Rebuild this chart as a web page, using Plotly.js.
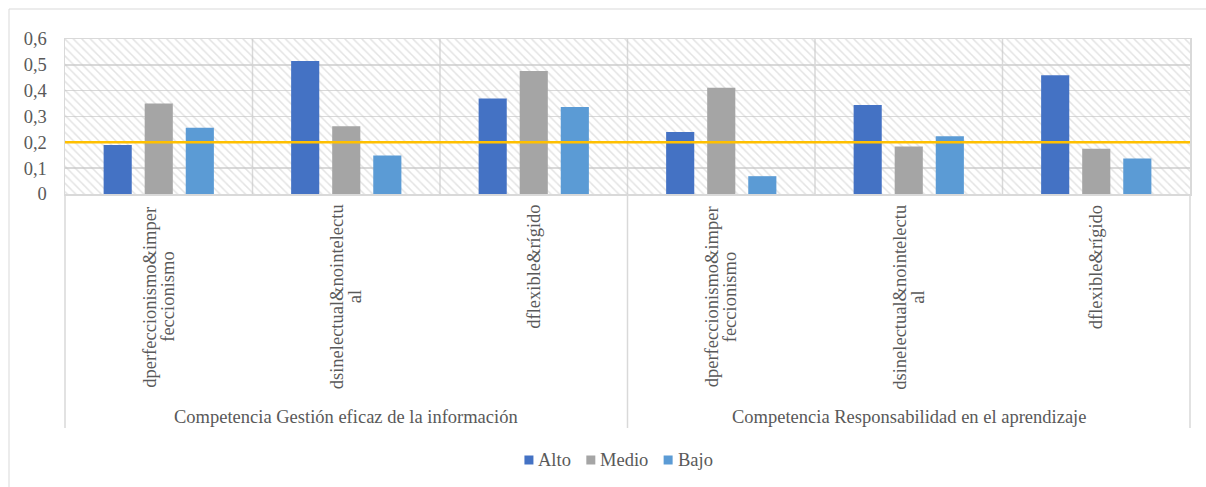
<!DOCTYPE html>
<html>
<head>
<meta charset="utf-8">
<script src="https://cdn.plot.ly/plotly-3.0.1.min.js"></script>
<style>
  html, body { margin: 0; padding: 0; background: #fff; }
  #chart { width: 1206px; height: 487px; }
</style>
</head>
<body>
<div id="chart"></div>
<script>
// Competence groups and the three dimensions measured inside each one
const groups = ['Competencia Gestión eficaz de la información', 'Competencia Responsabilidad en el aprendizaje'];
const dimensionLabels = [
  'dperfeccionismo&imper<br>feccionismo',
  'dsinelectual&nointelectu<br>al',
  'dflexible&rígido',
  'dperfeccionismo&imper<br>feccionismo',
  'dsinelectual&nointelectu<br>al',
  'dflexible&rígido'
];
const seriesNames = ['Alto', 'Medio', 'Bajo'];
const alto  = [0.19, 0.515, 0.37, 0.24, 0.345, 0.46];
const medio = [0.35, 0.262, 0.476, 0.411, 0.184, 0.175];
const bajo  = [0.256, 0.149, 0.337, 0.069, 0.224, 0.137];
const threshold = 0.2;
const yTickVals = [0, 0.1, 0.2, 0.3, 0.4, 0.5, 0.6];
const yTickText = ['0', '0,1', '0,2', '0,3', '0,4', '0,5', '0,6'];

const FONT = '"Liberation Serif", "Times New Roman", serif';
const FSIZE = 18.5;
const TEXT = '#595959';
const GRID = '#d9d9d9';
const colors = ['#4472C4', '#A5A5A5', '#5B9BD5'];

const nCat = dimensionLabels.length;
const xIdx = dimensionLabels.map((_, i) => i);
const barW = 0.15;
const step = 0.219;

const esc = s => s.replace(/&(?!amp;)/g, '&amp;');

const traces = [];

// hatched plot background
traces.push({
  type: 'bar', x: [(nCat - 1) / 2], y: [0.6], width: [nCat], offset: -nCat / 2,
  marker: { color: 'rgba(0,0,0,0)', line: { width: 0 },
            pattern: { shape: '\\', fgcolor: '#c8c8c8', size: 6, solidity: 0.25, fillmode: 'overlay' } },
  showlegend: false, hoverinfo: 'skip'
});

[alto, medio, bajo].forEach((vals, k) => {
  traces.push({
    type: 'bar', name: seriesNames[k], x: xIdx, y: vals,
    width: barW, offset: (k - 1) * step - barW / 2,
    marker: { color: colors[k], line: { width: 0 } }
  });
});

// reference level
traces.push({
  type: 'scatter', mode: 'lines', x: [-0.5, nCat - 0.5], y: [threshold, threshold],
  line: { color: '#FFC000', width: 2.5 }, showlegend: false, hoverinfo: 'skip'
});

const W = 1206, H = 487;
const mL = 65, mR = 16, mT = 39, mB = 293;
const plotW = W - mL - mR;
const plotH = H - mT - mB;
const pxToPaperY = px => 1 - (px - mT) / plotH;
const pxToPaperX = px => (px - mL) / plotW;

const shapes = [];
// separators between dimensions inside the plot
for (let i = 1; i < nCat; i++) {
  shapes.push({ type: 'line', xref: 'paper', yref: 'paper', x0: i / nCat, x1: i / nCat, y0: 0, y1: 1,
                line: { color: GRID, width: 1.5 }, layer: 'below' });
}
// group separators extending down through the label area
[0, 0.5, 1].forEach(x => {
  shapes.push({ type: 'line', xref: 'paper', yref: 'paper', x0: x, x1: x, y0: pxToPaperY(428), y1: 0,
                line: { color: GRID, width: 1.5 } });
});
// chart frame
shapes.push({ type: 'rect', xref: 'paper', yref: 'paper',
              x0: pxToPaperX(9), x1: pxToPaperX(1230), y0: pxToPaperY(520), y1: pxToPaperY(9),
              line: { color: GRID, width: 1 } });

const annotations = [];
const labelFont = { family: FONT, size: FSIZE, color: TEXT };
// rotated dimension labels; wrapped labels are centred on one another, tight line spacing
const lineGap = 18;
dimensionLabels.forEach((lab, i) => {
  const lines = lab.split('<br>');
  if (lines.length === 1) {
    annotations.push({ xref: 'x', yref: 'paper', x: i, y: pxToPaperY(203), xanchor: 'center', yanchor: 'top',
                       text: esc(lines[0]), textangle: -90, showarrow: false, font: labelFont });
  } else {
    lines.forEach((ln, j) => {
      annotations.push({ xref: 'x', yref: 'paper', x: i, y: pxToPaperY(297), xanchor: 'center', yanchor: 'middle',
                         xshift: (j - (lines.length - 1) / 2) * lineGap,
                         text: esc(ln), textangle: -90, showarrow: false, font: labelFont });
    });
  }
});
groups.forEach((g, j) => {
  annotations.push({ xref: 'paper', yref: 'paper', x: (j + 0.5) / groups.length, y: pxToPaperY(417),
                     xanchor: 'center', yanchor: 'middle', text: g, showarrow: false, font: labelFont });
});

// compact legend: small square swatch followed by the series name
const ctx = document.createElement('canvas').getContext('2d');
ctx.font = FSIZE + 'px "Liberation Serif"';
const sw = 9, swGap = 4, itemGap = 16;
const widths = seriesNames.map(n => sw + swGap + ctx.measureText(n).width);
const total = widths.reduce((a, b) => a + b, 0) + itemGap * (seriesNames.length - 1);
let cx = 618 - total / 2;
const legendY = 460;
seriesNames.forEach((n, k) => {
  shapes.push({ type: 'rect', xref: 'paper', yref: 'paper',
                x0: pxToPaperX(cx), x1: pxToPaperX(cx + sw),
                y0: pxToPaperY(legendY + sw / 2), y1: pxToPaperY(legendY - sw / 2),
                fillcolor: colors[k], line: { width: 0 } });
  annotations.push({ xref: 'paper', yref: 'paper', x: pxToPaperX(cx + sw + swGap), y: pxToPaperY(legendY),
                     xanchor: 'left', yanchor: 'middle', text: n, showarrow: false, font: labelFont,
                     borderpad: 0 });
  cx += widths[k] + itemGap;
});

const layout = {
  width: W, height: H,
  autosize: false,
  margin: { l: mL, r: mR, t: mT, b: mB, pad: 0, autoexpand: false },
  paper_bgcolor: '#ffffff', plot_bgcolor: '#ffffff',
  barmode: 'overlay',
  font: { family: FONT, color: TEXT, size: FSIZE },
  xaxis: { range: [-0.5, nCat - 0.5], showticklabels: false, showgrid: false, zeroline: false,
           showline: true, mirror: true, linecolor: GRID, linewidth: 1.5, fixedrange: true },
  yaxis: { range: [0, 0.6], tickvals: yTickVals, ticktext: yTickText, showgrid: true, gridcolor: GRID,
           gridwidth: 1.5, zeroline: false, showline: true, mirror: true, linecolor: GRID, linewidth: 1.5,
           ticks: '', ticklabelstandoff: 13, tickfont: { family: FONT, size: FSIZE, color: TEXT }, fixedrange: true },
  shapes: shapes,
  annotations: annotations,
  showlegend: false
};

Plotly.newPlot('chart', traces, layout, { displayModeBar: false, staticPlot: true });
</script>
</body>
</html>
